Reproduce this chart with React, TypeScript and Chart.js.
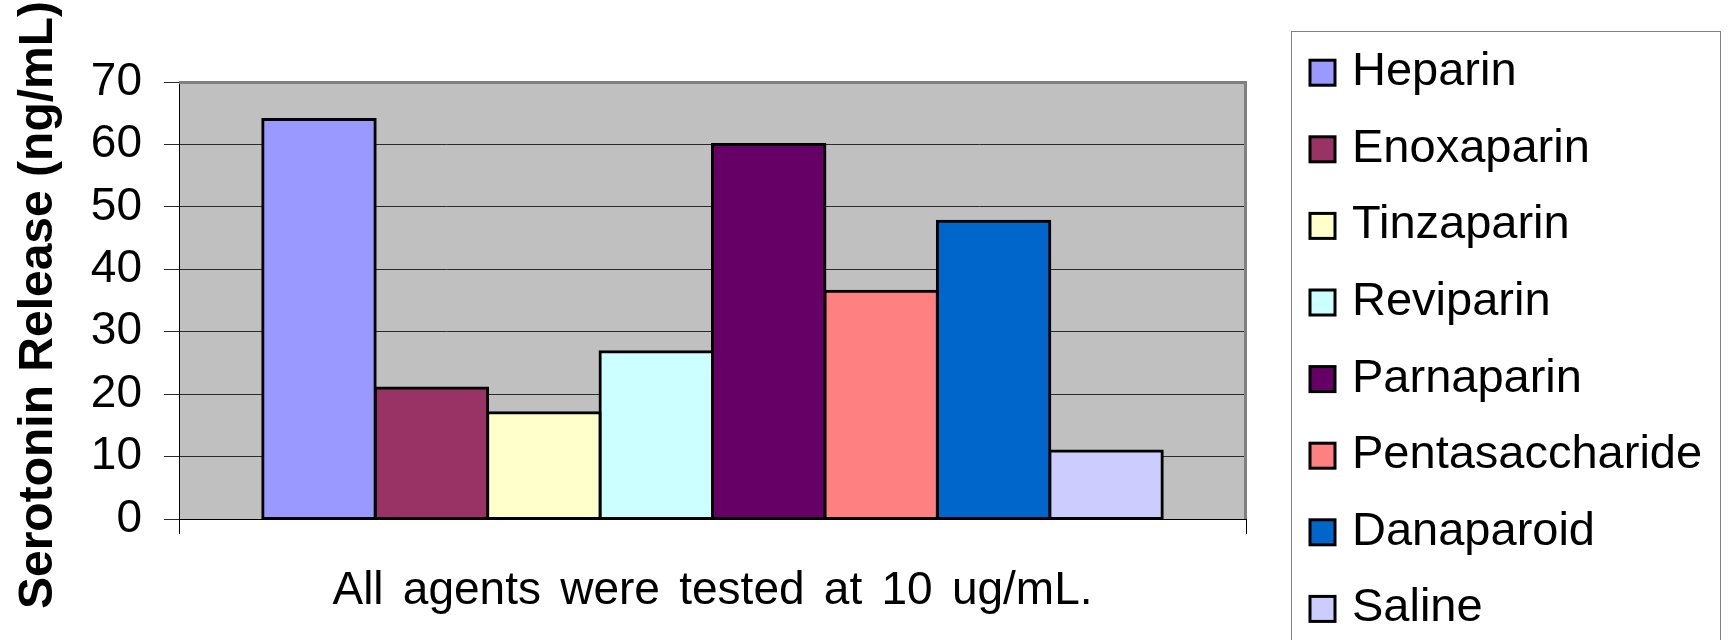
import React, { useEffect, useRef } from "react";
import { Chart, registerables } from "chart.js";

Chart.register(...registerables);

const categories = ["All agents were tested at 10 ug/mL."];
const seriesNames = [
  "Heparin",
  "Enoxaparin",
  "Tinzaparin",
  "Reviparin",
  "Parnaparin",
  "Pentasaccharide",
  "Danaparoid",
  "Saline",
];
const seriesValues = [64, 21, 17, 26.8, 60, 36.5, 47.7, 10.9];
const seriesColors = [
  "#9999FF",
  "#993366",
  "#FFFFCC",
  "#CCFFFF",
  "#660066",
  "#FF8080",
  "#0066CC",
  "#CCCCFF",
];
const yTickValues = [0, 10, 20, 30, 40, 50, 60, 70];
const yTitle = "Serotonin Release (ng/mL)";
const xTitle = "All agents were tested at 10 ug/mL.";

const FONT = "'Liberation Sans', Arial, sans-serif";

const plotBackground = {
  id: "plotBackground",
  beforeDraw(chart: any) {
    const { ctx, chartArea } = chart;
    ctx.save();
    ctx.fillStyle = "#C0C0C0";
    ctx.fillRect(chartArea.left, chartArea.top, chartArea.right - chartArea.left, chartArea.bottom - chartArea.top);
    ctx.restore();
  },
};

const plotFrame = {
  id: "plotFrame",
  afterDatasetsDraw(chart: any) {
    const { ctx, chartArea } = chart;
    ctx.save();
    ctx.strokeStyle = "#808080";
    ctx.lineWidth = 3;
    ctx.beginPath();
    ctx.moveTo(chartArea.left, chartArea.top + 0.5);
    ctx.lineTo(chartArea.right - 0.5, chartArea.top + 0.5);
    ctx.lineTo(chartArea.right - 0.5, chartArea.bottom);
    ctx.stroke();
    ctx.restore();
  },
};

const axisTitles = {
  id: "axisTitles",
  afterDraw(chart: any) {
    const { ctx, chartArea } = chart;
    ctx.save();
    ctx.fillStyle = "#000";
    ctx.font = `bold 48px ${FONT}`;
    ctx.textAlign = "center";
    ctx.textBaseline = "alphabetic";
    ctx.translate(52, 305);
    ctx.rotate(-Math.PI / 2);
    ctx.fillText(yTitle, 0, 0);
    ctx.restore();

    ctx.save();
    ctx.fillStyle = "#000";
    ctx.font = `46px ${FONT}`;
    ctx.textAlign = "left";
    ctx.textBaseline = "alphabetic";
    const words = xTitle.split(" ");
    const gap = ctx.measureText(" ").width + 6.5;
    const widths = words.map((w) => ctx.measureText(w).width);
    const total = widths.reduce((a, b) => a + b, 0) + gap * (words.length - 1);
    let x = (chartArea.left + chartArea.right) / 2 - total / 2;
    words.forEach((w, i) => {
      ctx.fillText(w, x, 603.5);
      x += widths[i] + gap;
    });
    ctx.restore();
  },
};

const boxLegend = {
  id: "boxLegend",
  afterDraw(chart: any) {
    const { ctx } = chart;
    ctx.save();
    ctx.strokeStyle = "#808080";
    ctx.lineWidth = 1;
    ctx.strokeRect(1291.5, 31.5, 429, 640);
    const datasets = chart.data.datasets;
    datasets.forEach((ds: any, i: number) => {
      const cy = 72.7 + i * 76.6;
      ctx.fillStyle = ds.backgroundColor;
      ctx.fillRect(1310, cy - 12.5, 25, 25);
      ctx.strokeStyle = "#000";
      ctx.lineWidth = 3;
      ctx.strokeRect(1310, cy - 12.5, 25, 25);
      ctx.fillStyle = "#000";
      ctx.font = `47px ${FONT}`;
      ctx.textAlign = "left";
      ctx.textBaseline = "alphabetic";
      ctx.fillText(ds.label, 1352, cy + 12.5);
    });
    ctx.restore();
  },
};

export default function App() {
  const canvasRef = useRef<HTMLCanvasElement | null>(null);

  useEffect(() => {
    document.body.style.margin = "0";
    const canvas = canvasRef.current;
    if (!canvas) return;
    const chart = new Chart(canvas, {
      type: "bar",
      data: {
        labels: categories,
        datasets: seriesNames.map((name, i) => ({
          label: name,
          data: [seriesValues[i]],
          backgroundColor: seriesColors[i],
          borderColor: "#000000",
          borderWidth: 3,
          borderSkipped: false,
          inflateAmount: 1.5,
          categoryPercentage: 0.843,
          barPercentage: 1,
        })),
      },
      options: {
        responsive: false,
        animation: false,
        devicePixelRatio: 1,
        layout: { padding: { left: 0, top: 82, right: 487, bottom: 0 } },
        plugins: {
          legend: { display: false },
          tooltip: { enabled: false },
          title: { display: false },
        },
        scales: {
          x: {
            type: "category",
            offset: true,
            ticks: { display: false },
            grid: {
              display: true,
              drawOnChartArea: false,
              drawTicks: true,
              tickLength: 15,
              color: "#000000",
              lineWidth: 1,
            },
            border: { display: true, color: "#000000", width: 1 },
            afterFit: (s: any) => {
              s.height = 121;
            },
          },
          y: {
            min: 0,
            max: 70,
            afterBuildTicks: (s: any) => {
              s.ticks = yTickValues.map((v) => ({ value: v }));
            },
            ticks: {
              color: "#000000",
              font: { family: FONT, size: 46 },
              padding: 22,
              autoSkip: false,
            },
            grid: {
              color: "#2a2a2a",
              lineWidth: 1,
              tickLength: 15,
              drawTicks: true,
            },
            border: { display: true, color: "#000000", width: 1 },
            afterFit: (s: any) => {
              s.width = 179;
            },
          },
        },
      },
      plugins: [plotBackground, plotFrame, axisTitles, boxLegend],
    });
    return () => chart.destroy();
  }, []);

  return (
    <div style={{ position: "absolute", left: 0, top: 0, width: 1733, height: 640, background: "#fff" }}>
      <canvas ref={canvasRef} width={1733} height={640} style={{ width: 1733, height: 640, display: "block" }} />
    </div>
  );
}
